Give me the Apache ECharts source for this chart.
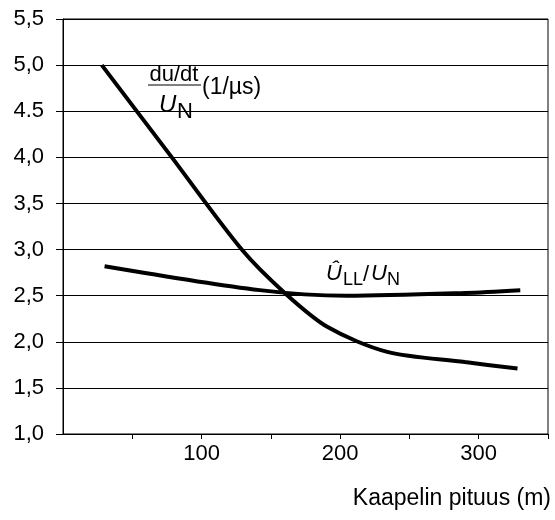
<!DOCTYPE html>
<html>
<head>
<meta charset="utf-8">
<script src="https://cdn.jsdelivr.net/npm/echarts@6/dist/echarts.min.js"></script>
<style>
  html, body { margin: 0; padding: 0; background: #fff; }
  #chart { width: 555px; height: 520px; }
</style>
</head>
<body>
<div id="chart"></div>
<script>
// cable length (m) and du/dt / U_N (1/us)
var lengthDu = [28, 78, 129, 160, 191, 234, 290, 328];
var duDtValues = [5.0, 4.01, 3.0, 2.53, 2.16, 1.89, 1.78, 1.71];

// cable length (m) and U_LL peak / U_N
var lengthUll = [30, 142, 205, 290, 330];
var ullValues = [2.82, 2.56, 2.5, 2.53, 2.56];

var xTicks = [50, 100, 150, 200, 250, 300, 350];
var xLabels = [100, 200, 300];
var yLabels = ['1,0', '1,5', '2,0', '2,5', '3,0', '3,5', '4,0', '4.5', '5,0', '5,5'];

var font = 'Liberation Sans, Arial, sans-serif';

function pairs(xs, ys) {
    var out = [];
    for (var i = 0; i < xs.length; i++) {
        out.push([xs[i], ys[i]]);
    }
    return out;
}

var myChart = echarts.init(document.getElementById('chart'));

var option = {
    animation: false,
    grid: {
        left: 63,
        right: 7,
        top: 19,
        bottom: 86,
        show: true,
        borderColor: '#000',
        borderWidth: 1
    },
    title: {
        text: 'Kaapelin pituus (m)',
        right: 4,
        top: 487,
        padding: 0,
        textStyle: { fontFamily: font, fontSize: 23, fontWeight: 'normal', color: '#000' }
    },
    xAxis: {
        type: 'value',
        min: 0,
        max: 350,
        interval: 50,
        axisLine: { lineStyle: { color: '#000', width: 1 } },
        axisTick: { show: true, length: 5, lineStyle: { color: '#000' }, customValues: xTicks },
        axisLabel: {
            margin: 9,
            fontFamily: font,
            fontSize: 22,
            color: '#000',
            customValues: xLabels
        },
        splitLine: { show: false }
    },
    yAxis: {
        type: 'value',
        min: 1,
        max: 5.5,
        interval: 0.5,
        axisLine: { show: true, lineStyle: { color: '#000', width: 1 } },
        axisTick: { show: true, length: 7, lineStyle: { color: '#000' } },
        axisLabel: {
            margin: 19,
            fontFamily: font,
            fontSize: 22,
            color: '#000',
            formatter: function (v) {
                return yLabels[Math.round((v - 1) / 0.5)];
            }
        },
        splitLine: { show: true, lineStyle: { color: '#000', width: 1 } }
    },
    series: [
        {
            name: 'du/dt',
            type: 'line',
            data: pairs(lengthDu, duDtValues),
            showSymbol: false,
            smooth: 0.3,
            lineStyle: { color: '#000', width: 4 }
        },
        {
            name: 'ULL',
            type: 'line',
            data: pairs(lengthUll, ullValues),
            showSymbol: false,
            smooth: 0.3,
            lineStyle: { color: '#000', width: 4 }
        }
    ],
    graphic: [
        // du/dt over U_N (1/us)
        { type: 'text', x: 174, y: 75, style: { text: 'du/dt', font: '22px ' + font, fill: '#000', align: 'center', verticalAlign: 'middle' } },
        { type: 'line', shape: { x1: 148, y1: 85, x2: 201, y2: 85 }, style: { stroke: '#000', lineWidth: 1 } },
        { type: 'text', x: 202, y: 88, style: { text: '(1/\u00b5s)', font: '23px ' + font, fill: '#000', align: 'left', verticalAlign: 'middle' } },
        { type: 'text', x: 159, y: 105, style: { text: 'U', font: 'italic 24px ' + font, fill: '#000', align: 'left', verticalAlign: 'middle' } },
        { type: 'text', x: 177, y: 112, style: { text: 'N', font: '22px ' + font, fill: '#000', align: 'left', verticalAlign: 'middle' } },
        // U_LL / U_N
        { type: 'text', x: 326, y: 274, style: { text: '\u00db', font: 'italic 22px ' + font, fill: '#000', align: 'left', verticalAlign: 'middle' } },
        { type: 'text', x: 343, y: 280, style: { text: 'LL', font: '18px ' + font, fill: '#000', align: 'left', verticalAlign: 'middle' } },
        { type: 'text', x: 363, y: 275, style: { text: '/', font: '22px ' + font, fill: '#000', align: 'left', verticalAlign: 'middle' } },
        { type: 'text', x: 371, y: 274, style: { text: 'U', font: 'italic 22px ' + font, fill: '#000', align: 'left', verticalAlign: 'middle' } },
        { type: 'text', x: 387, y: 280, style: { text: 'N', font: '18px ' + font, fill: '#000', align: 'left', verticalAlign: 'middle' } }
    ]
};

myChart.setOption(option);
</script>
</body>
</html>
